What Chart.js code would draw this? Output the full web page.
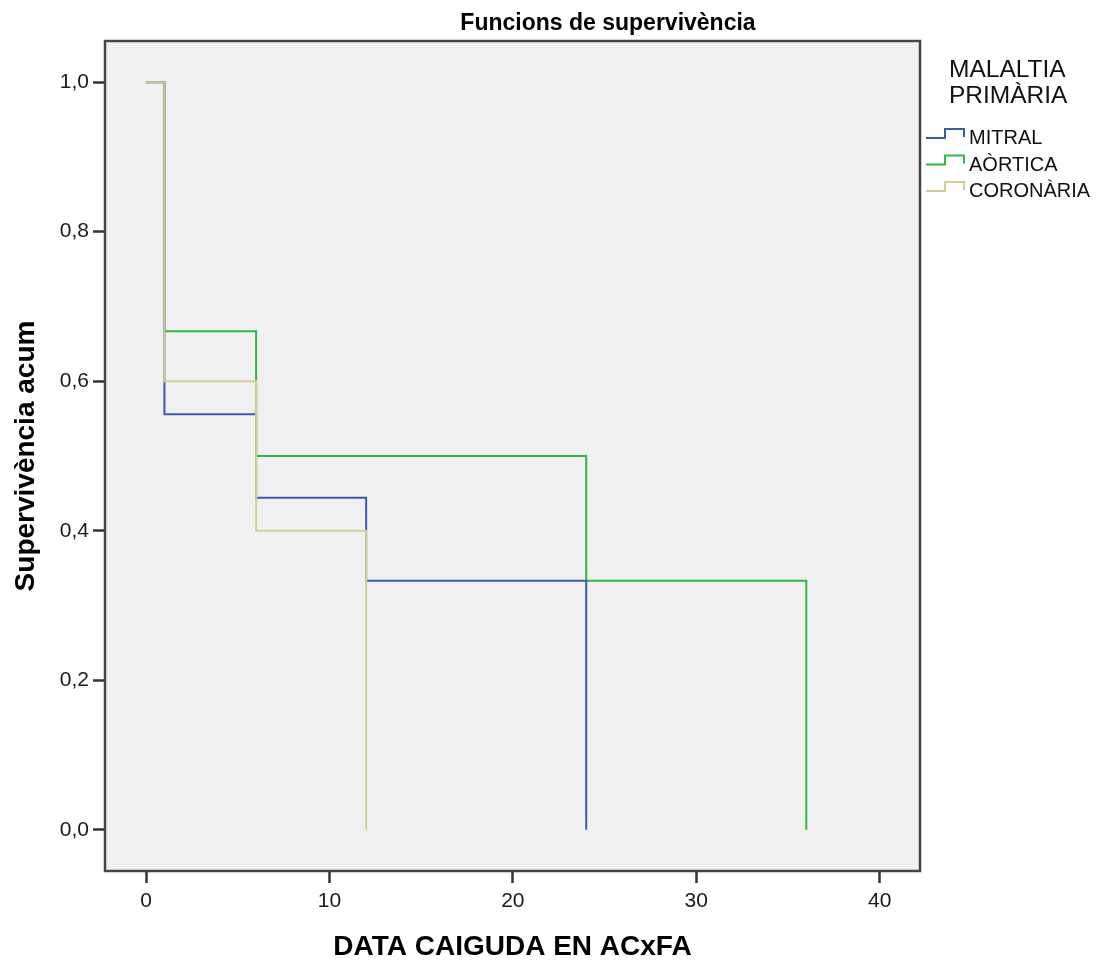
<!DOCTYPE html>
<html>
<head>
<meta charset="utf-8">
<script src="https://cdn.jsdelivr.net/npm/chart.js@4/dist/chart.umd.min.js"></script>
<style>
  html, body { margin: 0; padding: 0; background: #ffffff; }
  #c { display: block; }
</style>
</head>
<body>
<canvas id="c" width="1111" height="964"></canvas>
<script>
// ---- Data ----
const seriesNames = ['MITRAL', 'AÒRTICA', 'CORONÀRIA'];
const mitralX = [0, 1, 6, 12, 24];
const mitralY = [1.0, 0.556, 0.444, 0.333, 0.0];
const aorticaX = [0, 1, 6, 24, 36];
const aorticaY = [1.0, 0.667, 0.5, 0.333, 0.0];
const coronariaX = [0, 1, 6, 12];
const coronariaY = [1.0, 0.6, 0.4, 0.0];
const xTicks = [0, 10, 20, 30, 40];
const yTicks = [0.0, 0.2, 0.4, 0.6, 0.8, 1.0];
const chartTitle = 'Funcions de supervivència';
const xTitle = 'DATA CAIGUDA EN ACxFA';
const yTitle = 'Supervivència acum';
const legendTitle = ['MALALTIA', 'PRIMÀRIA'];

const colors = ['#3E58AC', '#2EB848', '#D3CE97'];
const FONT = "'Liberation Sans', Arial, sans-serif";

function pts(xs, ys) { return xs.map((x, i) => ({ x: x, y: ys[i] })); }

const framePlugin = {
  id: 'frame',
  beforeDraw(chart) {
    const { ctx, chartArea: a } = chart;
    ctx.save();
    ctx.fillStyle = '#ffffff';
    ctx.fillRect(0, 0, chart.width, chart.height);
    ctx.fillStyle = '#f0f0f0';
    ctx.fillRect(a.left, a.top, a.right - a.left, a.bottom - a.top);
    ctx.restore();
  },
  afterDraw(chart) {
    const { ctx, chartArea: a } = chart;
    ctx.save();
    ctx.strokeStyle = '#444444';
    ctx.lineWidth = 2.5;
    ctx.strokeRect(a.left, a.top, a.right - a.left, a.bottom - a.top);
    // title
    ctx.fillStyle = '#000000';
    ctx.font = "bold 23px " + FONT;
    ctx.textAlign = 'center';
    ctx.textBaseline = 'alphabetic';
    ctx.fillText(chartTitle, 608, 30);
    // legend
    ctx.textAlign = 'left';
    ctx.fillStyle = '#111111';
    ctx.font = "24.5px " + FONT;
    ctx.fillText(legendTitle[0], 949, 77);
    ctx.fillText(legendTitle[1], 949, 103);
    ctx.font = "20px " + FONT;
    const baselines = [144, 170.5, 197];
    seriesNames.forEach((name, i) => {
      const b = baselines[i];
      ctx.strokeStyle = colors[i];
      ctx.lineWidth = 2;
      ctx.beginPath();
      ctx.moveTo(926, b - 6);
      ctx.lineTo(945, b - 6);
      ctx.lineTo(945, b - 15);
      ctx.lineTo(964, b - 15);
      ctx.lineTo(964, b - 7);
      ctx.stroke();
      ctx.fillStyle = '#111111';
      ctx.fillText(name, 969, b);
    });
    ctx.restore();
  }
};

const ds = [
  { label: seriesNames[0], data: pts(mitralX, mitralY), borderColor: colors[0], order: 1 },
  { label: seriesNames[1], data: pts(aorticaX, aorticaY), borderColor: colors[1], order: 2 },
  { label: seriesNames[2], data: pts(coronariaX, coronariaY), borderColor: colors[2], order: 0 }
].map(d => Object.assign(d, {
  stepped: true, borderWidth: 2, pointRadius: 0, pointHoverRadius: 0,
  fill: false, tension: 0, backgroundColor: d.borderColor
}));

new Chart(document.getElementById('c'), {
  type: 'line',
  data: { datasets: ds },
  options: {
    responsive: false,
    animation: false,
    events: [],
    layout: { padding: { top: 41, right: 191, left: 0, bottom: 0 } },
    plugins: { legend: { display: false }, tooltip: { enabled: false }, title: { display: false } },
    scales: {
      x: {
        type: 'linear',
        min: -2.24,
        max: 42.2,
        afterBuildTicks(s) { s.ticks = xTicks.map(v => ({ value: v })); },
        afterFit(s) { s.height = 93; },
        ticks: {
          color: '#1a1a1a', padding: 6, maxRotation: 0, autoSkip: false,
          font: { family: FONT, size: 21 },
          callback: v => String(v)
        },
        grid: { drawOnChartArea: false, drawTicks: true, tickLength: 12, tickWidth: 2.5, tickColor: '#333333' },
        border: { display: false },
        title: { display: true, text: xTitle, color: '#000000', padding: { top: 0, bottom: 0 },
                 font: { family: FONT, size: 28, weight: 'bold' } }
      },
      y: {
        type: 'linear',
        min: -0.055,
        max: 1.055,
        afterBuildTicks(s) { s.ticks = yTicks.map(v => ({ value: v })); },
        afterFit(s) { s.width = 105; },
        ticks: {
          color: '#1a1a1a', padding: 4, autoSkip: false,
          font: { family: FONT, size: 21 },
          callback: v => Number(v).toFixed(1).replace('.', ',')
        },
        grid: { drawOnChartArea: false, drawTicks: true, tickLength: 12, tickWidth: 2.5, tickColor: '#333333' },
        border: { display: false },
        title: { display: true, text: yTitle, color: '#000000', padding: { top: 9, bottom: 0 },
                 font: { family: FONT, size: 28, weight: 'bold' } }
      }
    }
  },
  plugins: [framePlugin]
});
</script>
</body>
</html>
